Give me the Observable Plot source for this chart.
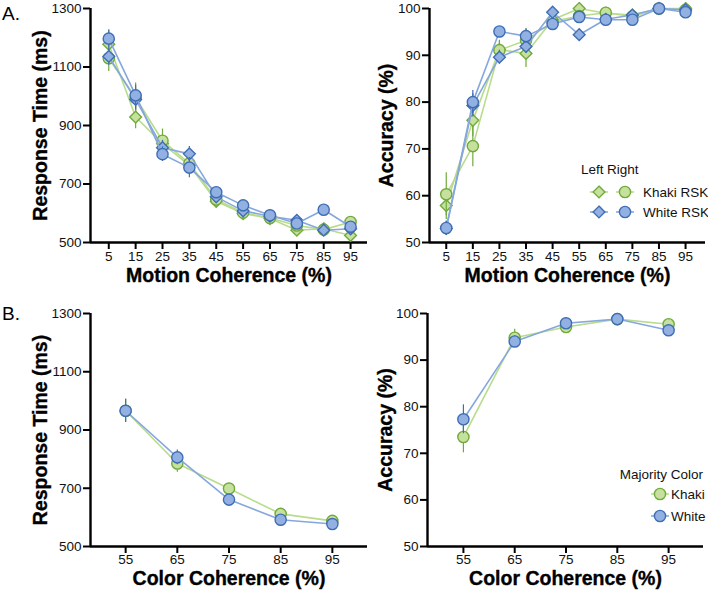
<!DOCTYPE html>
<html>
<head>
<meta charset="utf-8">
<script src="https://cdn.jsdelivr.net/npm/d3@7"></script>
<script src="https://cdn.jsdelivr.net/npm/@observablehq/plot@0.6"></script>
<style>
  body { margin: 0; background: #fff; }
  #fig { position: relative; width: 708px; height: 592px; overflow: hidden;
         font-family: "Liberation Sans", Arial, Helvetica, sans-serif; }
  #fig > svg { position: absolute; }
</style>
</head>
<body>
<div id="fig"></div>
<script>
// ---- Motion coherence task (panel A) ----
const motionCoherence = [5, 15, 25, 35, 45, 55, 65, 75, 85, 95];

// Response time (ms), mean and SEM
const rtKhakiLeft   = [1178, 929, 838, 764, 641, 599, 582, 542, 547, 524];
const rtKhakiRight  = [1130, 995, 848, 770, 647, 602, 584, 558, 544, 570];
const rtWhiteLeft   = [1136, 989, 824, 803, 656, 608, 590, 576, 542, 547];
const rtWhiteRight  = [1197, 1003, 802, 756, 672, 627, 593, 565, 612, 554];
const rtKhakiLeftErr  = [45, 40, 30, 28, 22, 15, 12, 12, 10, 12];
const rtKhakiRightErr = [45, 50, 40, 35, 22, 15, 12, 12, 10, 12];
const rtWhiteLeftErr  = [30, 35, 25, 25, 18, 14, 10, 10, 10, 10];
const rtWhiteRightErr = [30, 35, 25, 35, 18, 14, 10, 10, 10, 10];

// Accuracy (%), mean and SEM
const accKhakiLeft  = [57.9, 76.1, 91.2, 90.4, 97.6, 100.0, 99.0, 98.6, 100.0, 100.0];
const accKhakiRight = [60.3, 70.6, 91.1, 93.2, 97.2, 98.4, 99.1, 98.3, 100.0, 99.7];
const accWhiteLeft  = [53.0, 79.3, 89.6, 91.9, 99.2, 94.4, 97.7, 98.6, 100.0, 99.7];
const accWhiteRight = [53.1, 80.0, 95.1, 94.1, 96.7, 98.2, 97.6, 97.6, 100.0, 99.2];
const accKhakiLeftErr  = [3.0, 3.5, 2.0, 3.0, 1.0, 0.3, 0.5, 0.5, 0.2, 0.2];
const accKhakiRightErr = [4.6, 4.4, 2.0, 2.5, 1.0, 0.8, 0.5, 0.5, 0.2, 0.3];
const accWhiteLeftErr  = [1.5, 2.5, 1.5, 1.5, 0.5, 1.0, 0.5, 0.5, 0.2, 0.3];
const accWhiteRightErr = [1.5, 2.5, 1.0, 1.5, 1.0, 0.8, 0.5, 0.5, 0.2, 0.5];

// ---- Color coherence task (panel B) ----
const colorCoherence = [55, 65, 75, 85, 95];
const rtKhaki     = [966, 785, 699, 612, 588];
const rtWhite     = [966, 806, 661, 592, 577];
const rtKhakiErr  = [40, 30, 15, 12, 10];
const rtWhiteErr  = [40, 25, 15, 10, 10];
const accKhaki    = [73.5, 94.8, 97.1, 98.8, 97.7];
const accWhite    = [77.3, 94.0, 97.9, 98.8, 96.4];
const accKhakiErr = [3.4, 1.8, 0.8, 0.5, 0.6];
const accWhiteErr = [3.1, 1.2, 0.7, 0.5, 0.8];

// ---- Axis ticks and labels ----
const rtTicks = [500, 700, 900, 1100, 1300];
const accTicks = [50, 60, 70, 80, 90, 100];
const motionLegendHeader = ["Left", "Right"];
const motionLegendRows = ["Khaki RSK", "White RSK"];
const colorLegendTitle = "Majority Color";
const colorLegendRows = ["Khaki", "White"];

// ---- Styles ----
const khaki = { fill: "#c6e09e", stroke: "#70aa3a", line: "#b8dc8c" };
const white = { fill: "#92b1e2", stroke: "#3f6db4", line: "#86a7de" };
const symbolR = { circle: 5.6, diamond2: 5.3 };
const titleFont = { fontSize: 19.5, fontWeight: "bold", stroke: "#000", strokeWidth: 0.35 };

function seriesRows(xs, ys, errs) {
  return xs.map((x, i) => ({ x, y: ys[i], lo: ys[i] - errs[i], hi: ys[i] + errs[i] }));
}

function panel({ xs, series, xDomain, yDomain, yTicks, yTitle, xTitle,
                 left, top, width, height, margin, yTitleDx, xTitleDy, xTickPadding }) {
  const marks = [];
  for (const s of series) {
    const rows = seriesRows(xs, s.y, s.err);
    marks.push(Plot.line(rows, { x: "x", y: "y", stroke: s.style.line, strokeWidth: 1.6 }));
    marks.push(Plot.ruleX(rows, { x: "x", y1: "lo", y2: "hi", stroke: s.style.stroke, strokeWidth: 1.2 }));
    marks.push(Plot.dot(rows, {
      x: "x", y: "y", symbol: s.symbol, r: symbolR[s.symbol],
      fill: s.style.fill, stroke: s.style.stroke, strokeWidth: 1.4, fillOpacity: 1
    }));
  }
  const svg = Plot.plot({
    width, height,
    marginLeft: margin[3], marginRight: margin[1], marginTop: margin[0], marginBottom: margin[2],
    style: { fontFamily: "Liberation Sans, Arial, sans-serif", background: "transparent", overflow: "visible" },
    x: { domain: xDomain, axis: null },
    y: { domain: yDomain, axis: null },
    marks: [
      Plot.axisX(xs, { tickSize: 7, tickPadding: xTickPadding, fontSize: 13.5, stroke: "#000", strokeWidth: 2,
                       label: null, color: "#111", tickFormat: "d" }),
      Plot.axisY(yTicks, { tickSize: 7, tickPadding: 2, fontSize: 13.5, stroke: "#000", strokeWidth: 2,
                           label: null, color: "#111", tickFormat: "d" }),
      Plot.ruleX([xDomain[0]], { stroke: "#000", strokeWidth: 2.4 }),
      Plot.ruleY([yDomain[0]], { stroke: "#000", strokeWidth: 2.4 }),
      ...marks,
      Plot.text([xTitle], { frameAnchor: "bottom", dy: xTitleDy, lineAnchor: "middle", textAnchor: "middle",
                            ...titleFont, fill: "#000" }),
      Plot.text([yTitle], { frameAnchor: "left", rotate: -90, dx: yTitleDx, lineAnchor: "middle",
                            textAnchor: "middle", ...titleFont, fill: "#000" })
    ]
  });
  svg.style.left = left + "px";
  svg.style.top = top + "px";
  document.getElementById("fig").appendChild(svg);
}

// A, left: response time vs motion coherence
panel({
  xs: motionCoherence,
  series: [
    { y: rtKhakiLeft,  err: rtKhakiLeftErr,  symbol: "diamond2", style: khaki },
    { y: rtKhakiRight, err: rtKhakiRightErr, symbol: "circle",   style: khaki },
    { y: rtWhiteLeft,  err: rtWhiteLeftErr,  symbol: "diamond2", style: white },
    { y: rtWhiteRight, err: rtWhiteRightErr, symbol: "circle",   style: white }
  ],
  xDomain: [-1.8, 101.3], yDomain: [500, 1300], yTicks: rtTicks,
  yTitle: "Response Time (ms)", xTitle: "Motion Coherence (%)",
  left: 0, top: 0, width: 370, height: 296, margin: [8, 3, 54, 90],
  yTitleDx: -50, xTitleDy: 33, xTickPadding: 1.5
});

// A, right: accuracy vs motion coherence
panel({
  xs: motionCoherence,
  series: [
    { y: accKhakiLeft,  err: accKhakiLeftErr,  symbol: "diamond2", style: khaki },
    { y: accKhakiRight, err: accKhakiRightErr, symbol: "circle",   style: khaki },
    { y: accWhiteLeft,  err: accWhiteLeftErr,  symbol: "diamond2", style: white },
    { y: accWhiteRight, err: accWhiteRightErr, symbol: "circle",   style: white }
  ],
  xDomain: [-1.3, 102.5], yDomain: [50, 100], yTicks: accTicks,
  yTitle: "Accuracy (%)", xTitle: "Motion Coherence (%)",
  left: 354, top: 0, width: 354, height: 296, margin: [8, 3, 54, 75],
  yTitleDx: -43, xTitleDy: 33, xTickPadding: 1.5
});

// B, left: response time vs color coherence
panel({
  xs: colorCoherence,
  series: [
    { y: rtKhaki, err: rtKhakiErr, symbol: "circle", style: khaki },
    { y: rtWhite, err: rtWhiteErr, symbol: "circle", style: white }
  ],
  xDomain: [48.2, 101.8], yDomain: [500, 1300], yTicks: rtTicks,
  yTitle: "Response Time (ms)", xTitle: "Color Coherence (%)",
  left: 0, top: 300, width: 370, height: 292, margin: [13, 3, 46, 90],
  yTitleDx: -50, xTitleDy: 32, xTickPadding: 1
});

// B, right: accuracy vs color coherence
panel({
  xs: colorCoherence,
  series: [
    { y: accKhaki, err: accKhakiErr, symbol: "circle", style: khaki },
    { y: accWhite, err: accWhiteErr, symbol: "circle", style: white }
  ],
  xDomain: [48.0, 101.8], yDomain: [50, 100], yTicks: accTicks,
  yTitle: "Accuracy (%)", xTitle: "Color Coherence (%)",
  left: 354, top: 300, width: 354, height: 292, margin: [13, 5, 46, 73],
  yTitleDx: -42, xTitleDy: 32, xTickPadding: 1
});

// ---- Panel letters and legends (overlay) ----
const overlay = d3.select("#fig").append("svg")
  .attr("width", 708).attr("height", 592)
  .style("left", "0px").style("top", "0px")
  .style("font-family", "Liberation Sans, Arial, sans-serif");

overlay.append("text").attr("x", 2).attr("y", 20).attr("font-size", 19).text("A.");
overlay.append("text").attr("x", 2).attr("y", 320).attr("font-size", 19).text("B.");

function legendSymbol(g, type, cx, cy, style) {
  g.append("line").attr("x1", cx - 9).attr("x2", cx + 9).attr("y1", cy).attr("y2", cy)
    .attr("stroke", style.line).attr("stroke-width", 1.6);
  const r = symbolR[type];
  const sym = type === "circle" ? d3.symbolCircle : d3.symbolDiamond2;
  g.append("path").attr("transform", `translate(${cx},${cy})`)
    .attr("d", d3.symbol(sym, r * r * Math.PI)())
    .attr("fill", style.fill).attr("stroke", style.stroke).attr("stroke-width", 1.4);
}

// Motion legend: Left = diamond, Right = circle
const lgA = overlay.append("g").attr("font-size", 13.5).attr("fill", "#111");
lgA.append("text").attr("x", 581).attr("y", 174).text(motionLegendHeader[0]);
lgA.append("text").attr("x", 607).attr("y", 174).text(motionLegendHeader[1]);
[khaki, white].forEach((style, i) => {
  const cy = 192 + i * 20;
  legendSymbol(lgA, "diamond2", 599, cy, style);
  legendSymbol(lgA, "circle", 625, cy, style);
  lgA.append("text").attr("x", 643).attr("y", cy + 5).text(motionLegendRows[i]);
});

// Color legend
const lgB = overlay.append("g").attr("font-size", 13.5).attr("fill", "#111");
lgB.append("text").attr("x", 703).attr("y", 479).attr("text-anchor", "end").text(colorLegendTitle);
[khaki, white].forEach((style, i) => {
  const cy = 494 + i * 22;
  legendSymbol(lgB, "circle", 660, cy, style);
  lgB.append("text").attr("x", 671).attr("y", cy + 5).text(colorLegendRows[i]);
});
</script>
</body>
</html>
